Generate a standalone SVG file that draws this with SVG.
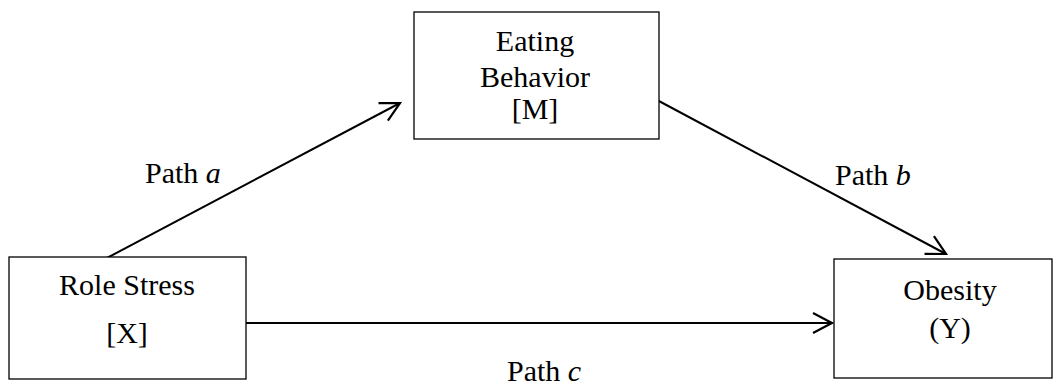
<svg xmlns="http://www.w3.org/2000/svg" width="1053" height="387" viewBox="0 0 1053 387">
  <style>
    .box { fill: #fff; stroke: #000; stroke-width: 1.3; }
    .t { font-family: "Liberation Serif", "Times New Roman", serif; font-size: 30px; fill: #000; }
    .c { text-anchor: middle; }
    .conn { stroke: #000; stroke-width: 2; fill: none; marker-end: url(#arr); }
  </style>
  <defs>
    <marker id="arr" markerUnits="userSpaceOnUse" markerWidth="24" markerHeight="24" viewBox="0 0 24 24" refX="21" refY="11" orient="auto">
      <path d="M2,1 L21,11 L2,21" fill="none" stroke="#000" stroke-width="2.2"/>
    </marker>
  </defs>
  <rect width="1053" height="387" fill="#fff"/>
  <g id="connectors">
    <line class="conn" x1="105" y1="259" x2="400" y2="103"/>
    <line class="conn" x1="657" y1="100" x2="946" y2="254"/>
    <line class="conn" x1="246" y1="323" x2="832" y2="323"/>
    <text class="t" x="145" y="183">Path <tspan font-style="italic">a</tspan></text>
    <text class="t" x="835" y="185">Path <tspan font-style="italic">b</tspan></text>
    <text class="t" x="507" y="381">Path <tspan font-style="italic">c</tspan></text>
  </g>
  <g id="node-m">
    <rect class="box" x="414" y="12" width="245" height="127"/>
    <text class="t c" x="535" y="51">Eating</text>
    <text class="t c" x="535" y="87">Behavior</text>
    <text class="t c" x="535" y="119">[M]</text>
  </g>
  <g id="node-x">
    <rect class="box" x="9" y="257" width="237" height="122"/>
    <text class="t c" x="127" y="295">Role Stress</text>
    <text class="t c" x="127" y="343">[X]</text>
  </g>
  <g id="node-y">
    <rect class="box" x="834" y="259" width="218" height="119"/>
    <text class="t c" x="950" y="300">Obesity</text>
    <text class="t c" x="950" y="338">(Y)</text>
  </g>
</svg>
